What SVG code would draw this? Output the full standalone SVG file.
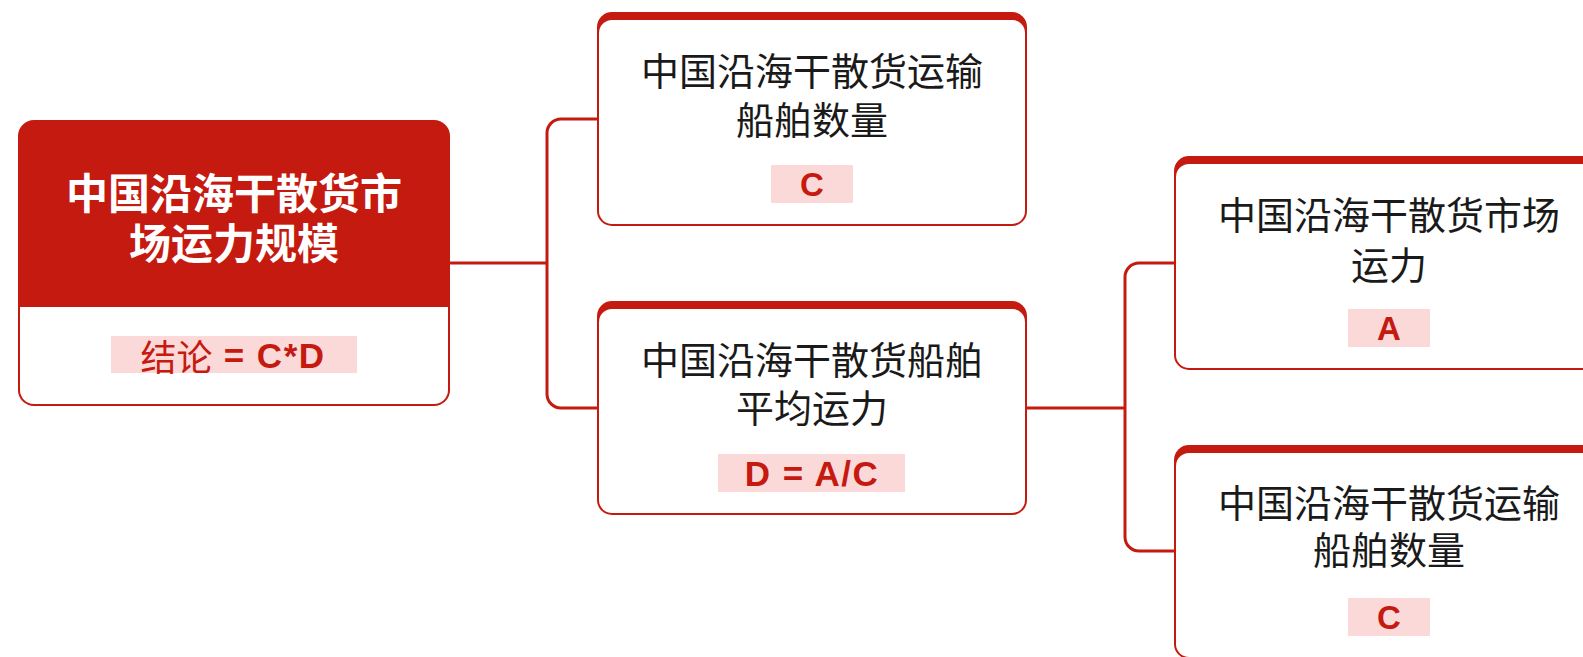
<svg xmlns="http://www.w3.org/2000/svg" width="1583" height="657" viewBox="0 0 1583 657">
<style>
.cn{font-family:"Noto Sans CJK SC","Liberation Sans",sans-serif;font-size:38px;fill:#1a1a1a;text-anchor:middle;dominant-baseline:central}
.title{font-family:"Noto Sans CJK SC","Liberation Sans",sans-serif;font-size:42px;font-weight:bold;fill:#ffffff;text-anchor:middle;dominant-baseline:central}
.lbl{fill:#fcd9d9}
.lt{font-family:"Liberation Sans","Noto Sans CJK SC",sans-serif;font-size:33px;font-weight:bold;fill:#c51a0f;text-anchor:middle;dominant-baseline:central}
.lf{font-family:"Liberation Sans","Noto Sans CJK SC",sans-serif;font-size:35px;font-weight:bold;fill:#c51a0f;text-anchor:middle;dominant-baseline:central;letter-spacing:1.5px}
.red{fill:#c51a0f}
.white{fill:#ffffff}
.conn{fill:none;stroke:#c51a0f;stroke-width:3}
</style>
<rect width="1583" height="657" fill="#ffffff"/>
<g id="connectors">
<path class="conn" d="M450,263 H547"/>
<path class="conn" d="M597,119 H561 A14,14 0 0 0 547,133 V394 A14,14 0 0 0 561,408 H597"/>
<path class="conn" d="M1027,408 H1125"/>
<path class="conn" d="M1174,263 H1139 A14,14 0 0 0 1125,277 V537 A14,14 0 0 0 1139,551 H1174"/>
</g>
<g id="root">
<rect class="red" x="18" y="120" width="432" height="286" rx="16"/>
<path class="white" d="M20,307 H448 V390 A14,14 0 0 1 434,404 H34 A14,14 0 0 1 20,390 Z"/>
<text class="title" x="234" y="190">中国沿海干散货市</text>
<text class="title" x="234" y="240">场运力规模</text>
<rect class="lbl" x="111" y="336" width="246" height="37"/>
<text class="lf" x="233" y="355"><tspan font-family="Noto Sans CJK SC, sans-serif" font-weight="normal" font-size="36px" letter-spacing="0">结论</tspan> = C*D</text>
</g>
<g id="nodeC">
<rect class="red" x="597" y="12" width="430" height="214" rx="15"/>
<rect class="white" x="599" y="20" width="426" height="204" rx="13"/>
<text class="cn" x="812" y="68">中国沿海干散货运输</text>
<text class="cn" x="812" y="117">船舶数量</text>
<rect class="lbl" x="771" y="165" width="82" height="38"/>
<text class="lt" x="812" y="184">C</text>
</g>
<g id="nodeD">
<rect class="red" x="597" y="301" width="430" height="214" rx="15"/>
<rect class="white" x="599" y="309" width="426" height="204" rx="13"/>
<text class="cn" x="812" y="357">中国沿海干散货船舶</text>
<text class="cn" x="812" y="405">平均运力</text>
<rect class="lbl" x="718" y="454" width="187" height="38"/>
<text class="lf" x="812" y="473">D = A/C</text>
</g>
<g id="nodeA">
<rect class="red" x="1174" y="156" width="430" height="214" rx="15"/>
<rect class="white" x="1176" y="164" width="426" height="204" rx="13"/>
<text class="cn" x="1389" y="212">中国沿海干散货市场</text>
<text class="cn" x="1389" y="262">运力</text>
<rect class="lbl" x="1348" y="309" width="82" height="38"/>
<text class="lt" x="1389" y="328">A</text>
</g>
<g id="nodeC2">
<rect class="red" x="1174" y="445" width="430" height="214" rx="15"/>
<rect class="white" x="1176" y="453" width="426" height="204" rx="13"/>
<text class="cn" x="1389" y="500">中国沿海干散货运输</text>
<text class="cn" x="1389" y="547">船舶数量</text>
<rect class="lbl" x="1348" y="598" width="82" height="38"/>
<text class="lt" x="1389" y="617">C</text>
</g>
</svg>
